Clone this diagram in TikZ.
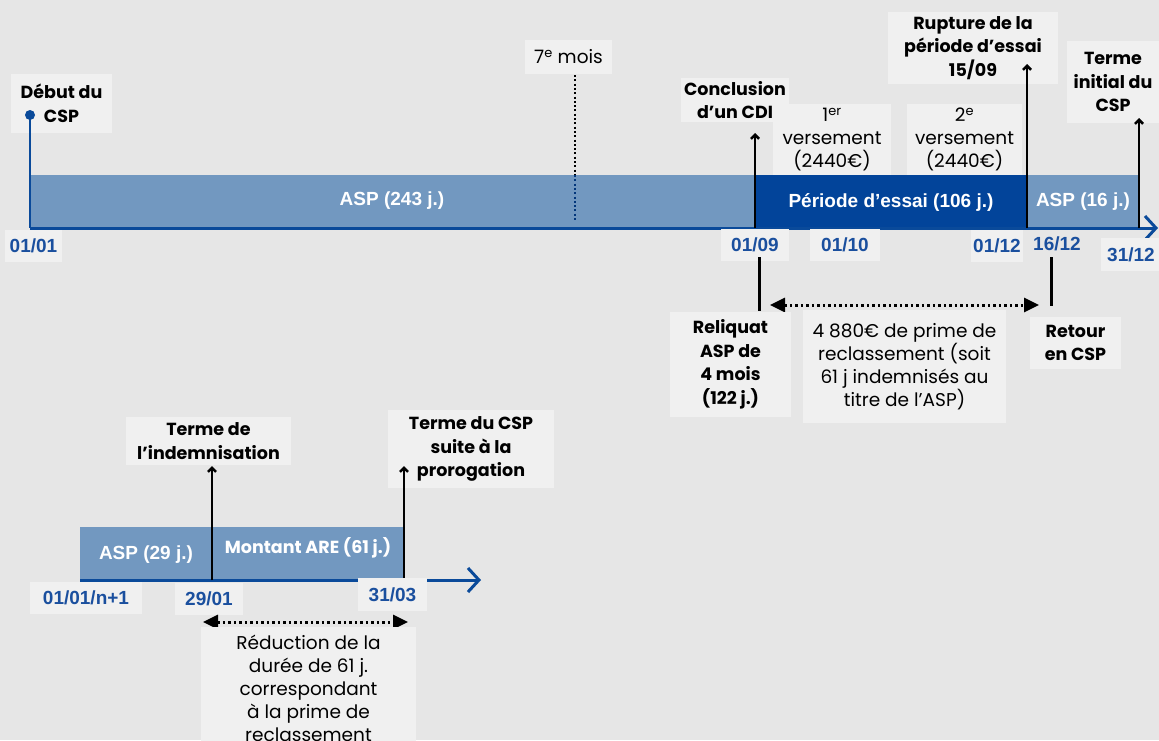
\documentclass[tikz,border=0pt]{standalone}
\usepackage{fontspec}
\setmainfont{Poppins}
\newfontfamily\datefont{Liberation Sans}
\usetikzlibrary{arrows.meta}

\definecolor{bg}{HTML}{E6E6E6}
\definecolor{boxfill}{HTML}{F0F0F0}
\definecolor{barlight}{HTML}{7298C0}
\definecolor{bardark}{HTML}{02449A}
\definecolor{axisblue}{HTML}{0A4A9A}
\definecolor{datecol}{HTML}{1A4F9E}

\tikzset{
  lbl/.style={fill=boxfill, inner sep=0pt, align=center,
    font=\fontsize{17.5}{23.5}\selectfont\bfseries},
  note/.style={fill=boxfill, inner sep=0pt, align=center,
    font=\fontsize{18.5}{23}\selectfont},
  datelbl/.style={fill=boxfill, inner sep=0pt, text=datecol,
    font=\datefont\bfseries\fontsize{19}{20}\selectfont},
  barL/.style={fill=barlight, inner sep=0pt, anchor=north west},
  barD/.style={fill=bardark, inner sep=0pt, anchor=north west},
  bartext/.style={text=white, inner sep=0pt,
    font=\datefont\bfseries\fontsize{19}{20}\selectfont},
  bartextb/.style={text=white, inner sep=0pt,
    font=\fontsize{17.5}{20}\selectfont\bfseries},
  axis/.style={draw=axisblue, line width=3pt,
    -{Straight Barb[length=11pt,width=24pt]}},
  pin/.style={draw=black, line width=2.6pt,
    -{Straight Barb[length=4pt,width=8pt]}},
  tick/.style={draw=black, line width=3pt},
  span/.style={draw=black, line width=3pt, dash pattern=on 2.7pt off 2.8pt,
    {Triangle[length=15pt,width=14pt]}-{Triangle[length=15pt,width=14pt]}},
  marker/.style={line width=2pt, dash pattern=on 2pt off 2.3pt}
}

\begin{document}
\begin{tikzpicture}[x=1pt,y=-1pt]
  % canvas
  \fill[bg] (0,0) rectangle (1159,740);
  \useasboundingbox (0,0) rectangle (1159,740);
  \clip (0,0) rectangle (1159,740);

  % ---------- first year ----------
  % bars
  \node[barL, minimum width=725, minimum height=53] (asp1) at (30,175) {};
  \node[barD, minimum width=272, minimum height=53] (essai) at (755,175) {};
  \node[barL, minimum width=112, minimum height=53] (asp2) at (1027,175) {};
  \node[bartext] (asp1t) at (392,201) {ASP (243 j.)};
  \node[bartext] (essait) at (891,202) {Période d’essai (106 j.)};
  \node[bartext] (asp2t) at (1083,202) {ASP (16 j.)};

  % time axis
  \coordinate (t0) at (30,228);
  \coordinate (tend) at (1158,228);
  \draw[axis] (t0) -- (tend);

  % start of the CSP
  \node[lbl, minimum width=101, minimum height=59] (debut) at (61.5,103.5) {Début du\\CSP};
  \coordinate (debutpin) at (30,115);
  \draw[draw=axisblue, line width=2.6pt] (debutpin) -- (t0);
  \fill[axisblue] (debutpin) circle (5);

  % 7th month marker
  \node[note, minimum width=87, minimum height=34] (mois7) at (568.5,57) {7\textsuperscript{e} mois};
  \coordinate (m7a) at (575,75);
  \coordinate (m7b) at (575,175);
  \coordinate (m7c) at (575,221);
  \draw[marker, black] (m7a) -- (m7b);
  \draw[marker, bardark!80!black] (m7b) -- (m7c);

  % events above the axis
  \node[lbl, minimum width=108, minimum height=44] (cdi) at (735,100) {Conclusion\\d’un CDI};
  \node[note, minimum width=118, minimum height=71] (vers1) at (832,139.5)
    {1\textsuperscript{er}\\versement\\(2440€)};
  \node[note, minimum width=115, minimum height=71] (vers2) at (964.5,139.5)
    {2\textsuperscript{e}\\versement\\(2440€)};
  \node[lbl, minimum width=170, minimum height=72] (rupture) at (973,48)
    {Rupture de la\\période d’essai\\15/09};
  \node[lbl, minimum width=92, minimum height=82] (terme) at (1113,82)
    {Terme\\initial du\\CSP};

  \coordinate (a1) at (755,228);  \coordinate (a1t) at (755,133);
  \coordinate (a2) at (1027,228); \coordinate (a2t) at (1027,64);
  \coordinate (a3) at (1139,228); \coordinate (a3t) at (1139,118);
  \draw[pin] (a1) -- (a1t);
  \draw[pin] (a2) -- (a2t);
  \draw[pin] (a3) -- (a3t);

  % dates
  \node[datelbl, minimum width=57, minimum height=32] (d0101) at (33.5,246) {01/01};
  \node[datelbl, minimum width=68, minimum height=32] (d0109) at (755,245) {01/09};
  \node[datelbl, minimum width=70, minimum height=32] (d0110) at (845,245) {01/10};
  \node[datelbl, minimum width=52, minimum height=32] (d0112) at (997,246) {01/12};
  \node[datelbl, fill=none, minimum height=30] (d1612) at (1057,244) {16/12};
  \node[datelbl, minimum width=60, minimum height=33] (d3112) at (1131,254.5) {31/12};

  % below the axis
  \coordinate (r1) at (759,257); \coordinate (r1b) at (759,311);
  \coordinate (r2) at (1051,257); \coordinate (r2b) at (1051,306);
  \draw[tick] (r1) -- (r1b);
  \draw[tick] (r2) -- (r2b);
  \coordinate (s1) at (770,305); \coordinate (s2) at (1039,305);
  \draw[span] (s1) -- (s2);

  \node[lbl, minimum width=121, minimum height=105] (reliquat) at (730.5,364.5)
    {Reliquat\\ASP de\\4 mois\\(122 j.)};
  \node[note, minimum width=203, minimum height=113] (prime) at (904.5,366.5)
    {4 880€ de prime de\\reclassement (soit\\61 j indemnisés au\\titre de l’ASP)};
  \node[lbl, minimum width=91, minimum height=52] (retour) at (1075.5,343)
    {Retour\\en CSP};

  % ---------- following year ----------
  \node[barL, minimum width=132, minimum height=53] (asp3) at (80,527) {};
  \node[barL, minimum width=192, minimum height=53] (are) at (212,527) {};
  \node[bartext] (asp3t) at (146,555) {ASP (29 j.)};
  \node[bartextb] (aret) at (308,548) {Montant ARE (61 j.)};

  \coordinate (u0) at (80,580);
  \coordinate (uend) at (481,580);
  \draw[axis] (u0) -- (uend);

  \node[lbl, minimum width=165, minimum height=48] (indem) at (208.5,441)
    {Terme de\\l’indemnisation};
  \node[lbl, minimum width=166, minimum height=78] (prorog) at (471,449)
    {Terme du CSP\\suite à la\\prorogation};
  \coordinate (b1) at (212,580); \coordinate (b1t) at (212,466);
  \coordinate (b2) at (404,580); \coordinate (b2t) at (404,466);
  \draw[pin] (b1) -- (b1t);
  \draw[pin] (b2) -- (b2t);

  \node[datelbl, minimum width=112, minimum height=32] (dn1) at (86,598) {01/01/n+1};
  \node[datelbl, minimum width=68, minimum height=32] (d2901) at (209,599) {29/01};
  \node[datelbl, minimum width=69, minimum height=33] (d3103) at (392.5,594.5) {31/03};

  \coordinate (s3) at (203,622); \coordinate (s4) at (408,622);
  \draw[span] (s3) -- (s4);

  \node[note, anchor=north, minimum width=215, minimum height=122] (reduc) at (308.5,627)
    {Réduction de la\\durée de 61 j.\\correspondant\\à la prime de\\reclassement};
\end{tikzpicture}
\end{document}
